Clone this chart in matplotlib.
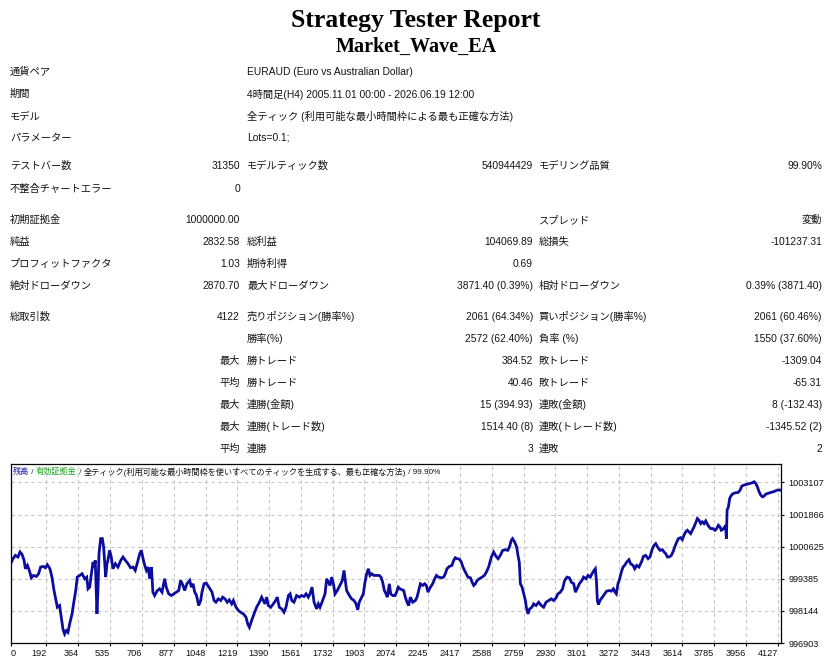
import matplotlib
matplotlib.use("Agg")
import matplotlib.pyplot as plt

plt.rcParams['font.family'] = ['Liberation Sans', 'Noto Sans CJK JP']

W, H = 832, 664

report_title = "Strategy Tester Report"
ea_name = "Market_Wave_EA"

# 上部の情報
info_labels = ["通貨ペア", "期間", "モデル", "パラメーター"]
info_values = ["EURAUD (Euro vs Australian Dollar)",
               "4時間足(H4) 2005.11.01 00:00 - 2026.06.19 12:00",
               "全ティック (利用可能な最小時間枠による最も正確な方法)",
               "Lots=0.1;"]

# 統計表: (ラベル1, 値1, ラベル2, 値2, ラベル3, 値3)
stats_rows = [
    ("テストバー数", "31350", "モデルティック数", "540944429", "モデリング品質", "99.90%"),
    ("不整合チャートエラー", "0", "", "", "", ""),
    ("初期証拠金", "1000000.00", "", "", "スプレッド", "変動"),
    ("純益", "2832.58", "総利益", "104069.89", "総損失", "-101237.31"),
    ("プロフィットファクタ", "1.03", "期待利得", "0.69", "", ""),
    ("絶対ドローダウン", "2870.70", "最大ドローダウン", "3871.40 (0.39%)", "相対ドローダウン", "0.39% (3871.40)"),
    ("総取引数", "4122", "売りポジション(勝率%)", "2061 (64.34%)", "買いポジション(勝率%)", "2061 (60.46%)"),
    ("", "", "勝率(%)", "2572 (62.40%)", "負率 (%)", "1550 (37.60%)"),
    ("", "最大", "勝トレード", "384.52", "敗トレード", "-1309.04"),
    ("", "平均", "勝トレード", "40.46", "敗トレード", "-65.31"),
    ("", "最大", "連勝(金額)", "15 (394.93)", "連敗(金額)", "8 (-132.43)"),
    ("", "最大", "連勝(トレード数)", "1514.40 (8)", "連敗(トレード数)", "-1345.52 (2)"),
    ("", "平均", "連勝", "3", "連敗", "2"),
]

# 残高曲線 (取引番号, 残高)
trades = [0, 12, 25, 39, 50, 61, 72, 79, 90, 100,
          111, 122, 138, 150, 161, 174, 186, 197, 211, 222,
          233, 240, 251, 263, 272, 281, 290, 299, 308, 317,
          330, 341, 350, 358, 371, 384, 398, 409, 416, 425,
          434, 443, 448, 455, 461, 464, 470, 475, 484, 493,
          500, 505, 511, 518, 523, 532, 541, 550, 563, 577,
          592, 604, 617, 631, 645, 658, 670, 685, 694, 703,
          712, 721, 730, 739, 748, 757, 765, 774, 789, 801,
          814, 828, 837, 850, 864, 878, 891, 904, 914, 927,
          936, 948, 963, 972, 981, 990, 1000, 1011, 1022, 1029,
          1040, 1052,
          1072, 1083, 1094, 1104, 1117, 1130, 1140, 1153, 1165, 1176,
          1189, 1198, 1212, 1225, 1237, 1252, 1266, 1275, 1284, 1296,
          1309, 1323, 1338, 1350, 1359, 1368, 1377, 1386, 1399, 1413,
          1425, 1434, 1445, 1458, 1470, 1481, 1494, 1503, 1512, 1524,
          1538, 1553, 1565, 1578, 1589, 1601, 1610, 1621, 1632, 1646,
          1655, 1664, 1678, 1691, 1700, 1709, 1718, 1727, 1736, 1745,
          1757, 1771, 1784, 1793, 1800, 1807, 1822, 1834, 1847, 1858,
          1867, 1875, 1888, 1897, 1906, 1915, 1924, 1933, 1942, 1954,
          1969, 1983, 1992, 2001, 2010, 2019, 2026, 2037, 2044, 2055,
          2067, 2076, 2085, 2094,
          2114, 2123, 2132, 2141, 2150, 2163, 2177, 2186, 2195, 2204,
          2216, 2227, 2236, 2245, 2258, 2270, 2281, 2290, 2302, 2317,
          2329, 2338, 2347, 2360, 2374, 2383, 2392, 2401, 2414, 2424,
          2433, 2446, 2460, 2473, 2482, 2491, 2500, 2509, 2521, 2536,
          2548, 2559, 2571, 2586, 2598, 2611, 2622, 2634, 2647, 2661,
          2674, 2683, 2693, 2700, 2711, 2722, 2729, 2736, 2742, 2751,
          2760, 2769, 2774, 2783, 2792, 2804, 2813, 2826, 2840, 2855,
          2867, 2880, 2894, 2908, 2921, 2934, 2944, 2957, 2969, 2980,
          2993, 3005, 3016, 3029, 3038, 3047, 3059, 3073, 3082, 3095,
          3106, 3118, 3127,
          3138, 3145, 3151, 3156, 3162, 3170, 3183, 3196, 3206, 3219,
          3231, 3242, 3251, 3258, 3267, 3276, 3285, 3294, 3303, 3314,
          3326, 3335, 3348, 3357, 3368, 3380, 3393, 3404, 3416, 3429,
          3439, 3452, 3461, 3470, 3482, 3493, 3506, 3515, 3524, 3533,
          3542, 3554, 3565, 3572, 3583, 3592, 3604, 3613, 3622, 3631,
          3640, 3649, 3658, 3667, 3676, 3685, 3694, 3703, 3712, 3721,
          3730, 3739, 3748, 3757, 3766, 3778, 3789, 3798, 3807, 3816,
          3823, 3832, 3841, 3846, 3850, 3854, 3861, 3868, 3877, 3888,
          3900, 3913, 3924, 3933, 3945, 3958, 3967, 3977, 3990, 3999,
          4008, 4017, 4026, 4035, 4044, 4053, 4062, 4074, 4088, 4103,
          4115, 4124, 4137]

balance = [999965, 1000159, 1000288, 1000224, 1000418, 1000327, 1000094, 999771, 999901, 999707,
           999422, 999513, 999474, 999577, 999836, 999862, 999810, 999927, 999771, 999448,
           998931, 998673, 998285, 998350, 997897, 997445, 997251, 997380, 997316, 997639,
           998027, 998544, 998931, 999448, 999513, 999577, 999384, 999448, 998996, 999061,
           999577, 1000030, 999836, 1000094, 998673, 998027, 999061, 1000353, 1000935, 1000935,
           1000611, 1000094, 999448, 999965, 1000094, 1000482, 1000224, 999771, 999965, 999836,
           1000094, 1000224, 1000094, 999965, 999810, 999836, 999707, 1000094, 1000353, 1000482,
           1000159, 999901, 999707, 999836, 999384, 999836, 998867, 998737, 998931, 998996,
           998867, 999384, 999061, 998802, 998737, 998802, 998867, 998931, 999319, 999125,
           998931, 999190, 999319, 999061, 999190, 998867, 998737, 998350, 998544, 998867,
           999190, 999216,
           998996, 998867, 998544, 998479, 998608, 998544, 998673, 998608, 998479, 998569,
           998414, 998544, 998285, 998156, 998091, 998027, 997897, 997639, 997510, 997768,
           998027, 998285, 998479, 998673, 998544, 998414, 998673, 998350, 998285, 998414,
           998544, 998673, 998285, 998220, 998091, 998285, 998737, 998802, 998544, 998479,
           998737, 998673, 998737, 998699, 998802, 998673, 998802, 999061, 998479, 998220,
           998414, 998285, 998544, 998802, 999384, 999254, 999125, 999448, 999190, 998802,
           998931, 999125, 999319, 999707, 999319, 998931, 998737, 998608, 998544, 998414,
           998182, 998479, 998673, 998802, 999254, 999577, 999771, 999513, 999577, 999513,
           999513, 999513, 999448, 999254, 998931, 998802, 998673, 999190, 998802, 998737,
           998737, 998867, 999061, 998996,
           998931, 998673, 998479, 998350, 998673, 998479, 998544, 998673, 998931, 999190,
           999125, 999190, 999125, 998867, 999061, 999190, 999384, 999513, 999448, 999422,
           999448, 999577, 999771, 999862, 999901, 1000094, 1000198, 1000159, 1000146, 1000030,
           999836, 999642, 999448, 999422, 999254, 999125, 999190, 999319, 999384, 999448,
           999513, 999642, 999836, 1000224, 1000418, 1000250, 1000159, 1000288, 1000482, 1000508,
           1000482, 1000611, 1000870, 1000935, 1000805, 1000611, 1000288, 1000030, 999190, 999061,
           998802, 998544, 998285, 998027, 998220, 998285, 998414, 998350, 998479, 998350,
           998285, 998479, 998544, 998608, 998544, 998647, 998802, 998867, 998996, 999319,
           999448, 999422, 999254, 999190, 998867, 998996, 999190, 999319, 999448, 999384,
           999513, 999448, 999577,
           999707, 999771, 999319, 998544, 998388, 998544, 998673, 998802, 998905, 998931,
           998905, 998996, 998867, 998802, 999190, 999384, 999642, 999836, 999901, 1000030,
           1000120, 999965, 999901, 999771, 999901, 999836, 1000030, 1000250, 1000288, 1000159,
           1000224, 1000547, 1000676, 1000741, 1000586, 1000482, 1000508, 1000418, 1000353, 1000224,
           1000224, 1000288, 1000456, 1000611, 1000805, 1000935, 1000973, 1000896, 1001064, 1001193,
           1001258, 1001193, 1001129, 1001258, 1001387, 1001542, 1001710, 1001646, 1001516, 1001581,
           1001516, 1001620, 1001490, 1001387, 1001322, 1001322, 1001258, 1001322, 1001452, 1001387,
           1001258, 1001297, 1001387, 1001452, 1000935, 1002033, 1002163, 1002486, 1002615, 1002680,
           1002705, 1002718, 1002809, 1002964, 1003003, 1003028, 1003041, 1003067, 1003093, 1003132,
           1003067, 1002938, 1002744, 1002615, 1002550, 1002576, 1002654, 1002680, 1002718, 1002744,
           1002783, 1002809, 1002809]

x_ticks = [0, 192, 364, 535, 706, 877, 1048, 1219, 1390, 1561, 1732, 1903, 2074,
           2245, 2417, 2588, 2759, 2930, 3101, 3272, 3443, 3614, 3785, 3956, 4127]
y_ticks = [996903, 998144, 999385, 1000625, 1001866, 1003107]

chart_caption = ["残高", " / ", "有効証拠金", " / ",
                 "全ティック(利用可能な最小時間枠を使いすべてのティックを生成する、最も正確な方法)",
                 " / 99.90%"]
caption_colors = ["#1a1a9a", "#333333", "#18a018", "#333333", "#111111", "#111111"]

fig = plt.figure(figsize=(W / 100, H / 100), dpi=100)
fig.patch.set_facecolor("white")


def fx(x):
    return x / W


def fy(y):
    return 1 - y / H


# タイトル
fig.text(fx(416), fy(20), report_title, ha="center", va="center",
         family="Liberation Serif", weight="bold", fontsize=18.5, color="black")
fig.text(fx(416), fy(47), ea_name, ha="center", va="center",
         family="Liberation Serif", weight="bold", fontsize=14.5, color="black")

txt_kw = dict(fontsize=7.4, color="#141414", va="center")

info_y = [72, 94, 116, 138]
for lab, val, y in zip(info_labels, info_values, info_y):
    fig.text(fx(10), fy(y), lab, ha="left", **txt_kw)
    fig.text(fx(247), fy(y), val, ha="left", **txt_kw)

row_y = [166, 189, 220, 242, 264, 286, 317, 339, 361, 383, 405, 427, 449]
col_x = [(10, "left"), (240, "right"), (247, "left"), (533, "right"), (539, "left"), (822, "right")]
for row, y in zip(stats_rows, row_y):
    for cell, (x, ha) in zip(row, col_x):
        if cell:
            fig.text(fx(x), fy(y), cell, ha=ha, **txt_kw)

# グラフ
ax = fig.add_axes([fx(10.7), fy(643), fx(781) - fx(10.7), fy(464) - fy(643)])
ax.plot(trades, balance, color="#0c0c9e", lw=2.0, solid_joinstyle="miter")
ax.set_xlim(0, 4144)
ax.set_ylim(996903, 1003817)

ax.set_xticks(x_ticks)
ax.set_xticklabels([str(v) for v in x_ticks])
for i, lbl in enumerate(ax.get_xticklabels()):
    lbl.set_ha("left" if i == 0 else "right")
ax.yaxis.tick_right()
ax.set_yticks(y_ticks)
ax.set_yticklabels([str(v) for v in y_ticks])
ax.tick_params(axis="both", labelsize=6.6, length=2.5, width=0.8, color="black",
               labelcolor="#111111", pad=2)
ax.tick_params(axis="y", pad=3)

ax.grid(True, color="#c4c4c4", linestyle=(0, (3, 3)), linewidth=0.8)
for i, gl in enumerate(ax.get_xgridlines()):
    if i == 0:
        gl.set_visible(False)
for sp in ax.spines.values():
    sp.set_color("black")
    sp.set_linewidth(0.9)

# 凡例風の見出し
prev = ax.text(0.003, 0.955, chart_caption[0], transform=ax.transAxes, ha="left", va="center",
               fontsize=5.9, color=caption_colors[0])
for part, col in zip(chart_caption[1:], caption_colors[1:]):
    prev = ax.annotate(part, xy=(1, 0.5), xycoords=prev, ha="left", va="center",
                       fontsize=5.9, color=col)

fig.savefig("out.png", dpi=100, facecolor="white")
